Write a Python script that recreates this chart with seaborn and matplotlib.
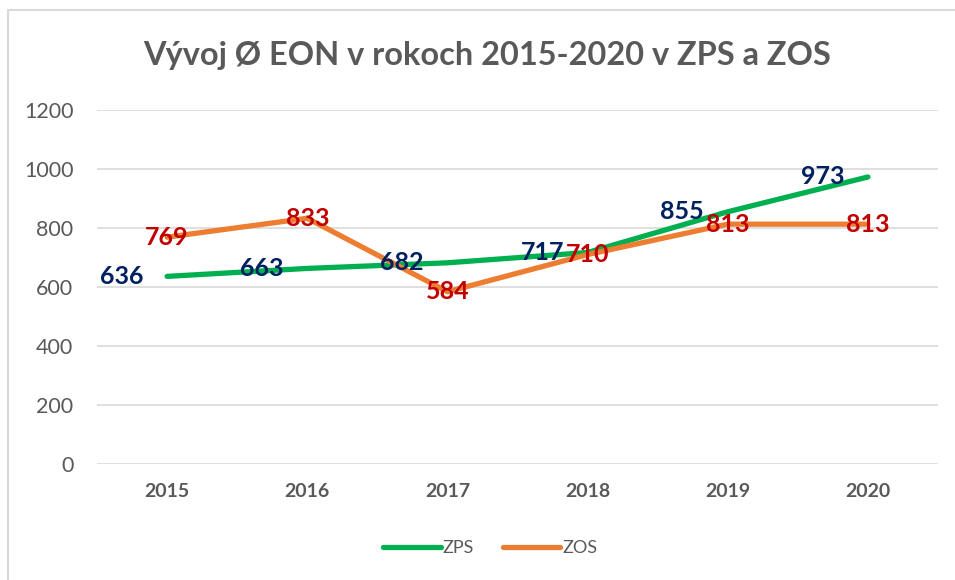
import matplotlib
matplotlib.use("Agg")
import matplotlib.pyplot as plt
from matplotlib.lines import Line2D
import seaborn as sns
import pandas as pd

years = ["2015", "2016", "2017", "2018", "2019", "2020"]
zps = [636, 663, 682, 717, 855, 973]
zos = [769, 833, 584, 710, 813, 813]
series_names = ["ZPS", "ZOS"]
y_ticks = [0, 200, 400, 600, 800, 1000, 1200]
title = "Vývoj Ø EON v rokoch 2015-2020 v ZPS a ZOS"

line_colors = {"ZPS": "#00B050", "ZOS": "#ED7D31"}
label_colors = {"ZPS": "#002060", "ZOS": "#C00000"}
gray = "#595959"
grid_gray = "#D9D9D9"

sns.set_theme(style="white")
plt.rcParams["font.family"] = ["Lato", "DejaVu Sans"]

df = pd.DataFrame({
    "Rok": years * 2,
    "Hodnota": zps + zos,
    "Séria": ["ZPS"] * len(years) + ["ZOS"] * len(years),
})

fig = plt.figure(figsize=(9.55, 5.8), dpi=100)
ax = fig.add_axes([97 / 955, 1 - 464 / 580, (938 - 97) / 955, (464 - 110) / 580])

sns.lineplot(data=df, x="Rok", y="Hodnota", hue="Séria", hue_order=series_names,
             palette=line_colors, linewidth=3.8, sort=False, ax=ax, legend=False,
             solid_capstyle="round")

ax.set_xlim(-0.5, len(years) - 0.5)
ax.set_ylim(0, 1200)
ax.set_yticks(y_ticks)
ax.set_xticks(range(len(years)))
ax.set_xticklabels(years, fontweight="bold", fontsize=14, color=gray)
ax.tick_params(axis="y", labelsize=15.5, labelcolor=gray, length=0, pad=17)
ax.tick_params(axis="x", length=0, pad=14)
ax.set_xlabel("")
ax.set_ylabel("")
ax.grid(axis="y", color=grid_gray, linewidth=1.2)
ax.set_axisbelow(True)
for s in ax.spines.values():
    s.set_visible(False)

# data labels
for i, v in enumerate(zps):
    ax.annotate(str(v), (i, v), xytext=(-17, 0), textcoords="offset points",
                ha="right", va="center", fontsize=18, fontweight="bold",
                color=label_colors["ZPS"], zorder=5)
for i, v in enumerate(zos):
    ax.annotate(str(v), (i, v), xytext=(0, 0), textcoords="offset points",
                ha="center", va="center", fontsize=18, fontweight="bold",
                color=label_colors["ZOS"], zorder=5)

fig.text(487 / 955, 1 - 56 / 580, title, ha="center", va="center",
         fontsize=23.4, fontweight="bold", color=gray)

handles = [Line2D([0], [0], color=line_colors[n], lw=3.8, solid_capstyle="round")
           for n in series_names]
fig.legend(handles, series_names, loc="center", bbox_to_anchor=(490 / 955, 1 - 548 / 580),
           ncol=2, frameon=False, fontsize=13, labelcolor=gray, handlelength=3.2,
           handletextpad=0.1, columnspacing=1.6)

# chart border
fig.add_artist(Line2D([8 / 955, 8 / 955], [0, 1 - 10 / 580], color=grid_gray, lw=1.5,
                      transform=fig.transFigure))
fig.add_artist(Line2D([8 / 955, 1], [1 - 10 / 580, 1 - 10 / 580], color=grid_gray, lw=1.5,
                      transform=fig.transFigure))

fig.savefig("out.png", dpi=100)
